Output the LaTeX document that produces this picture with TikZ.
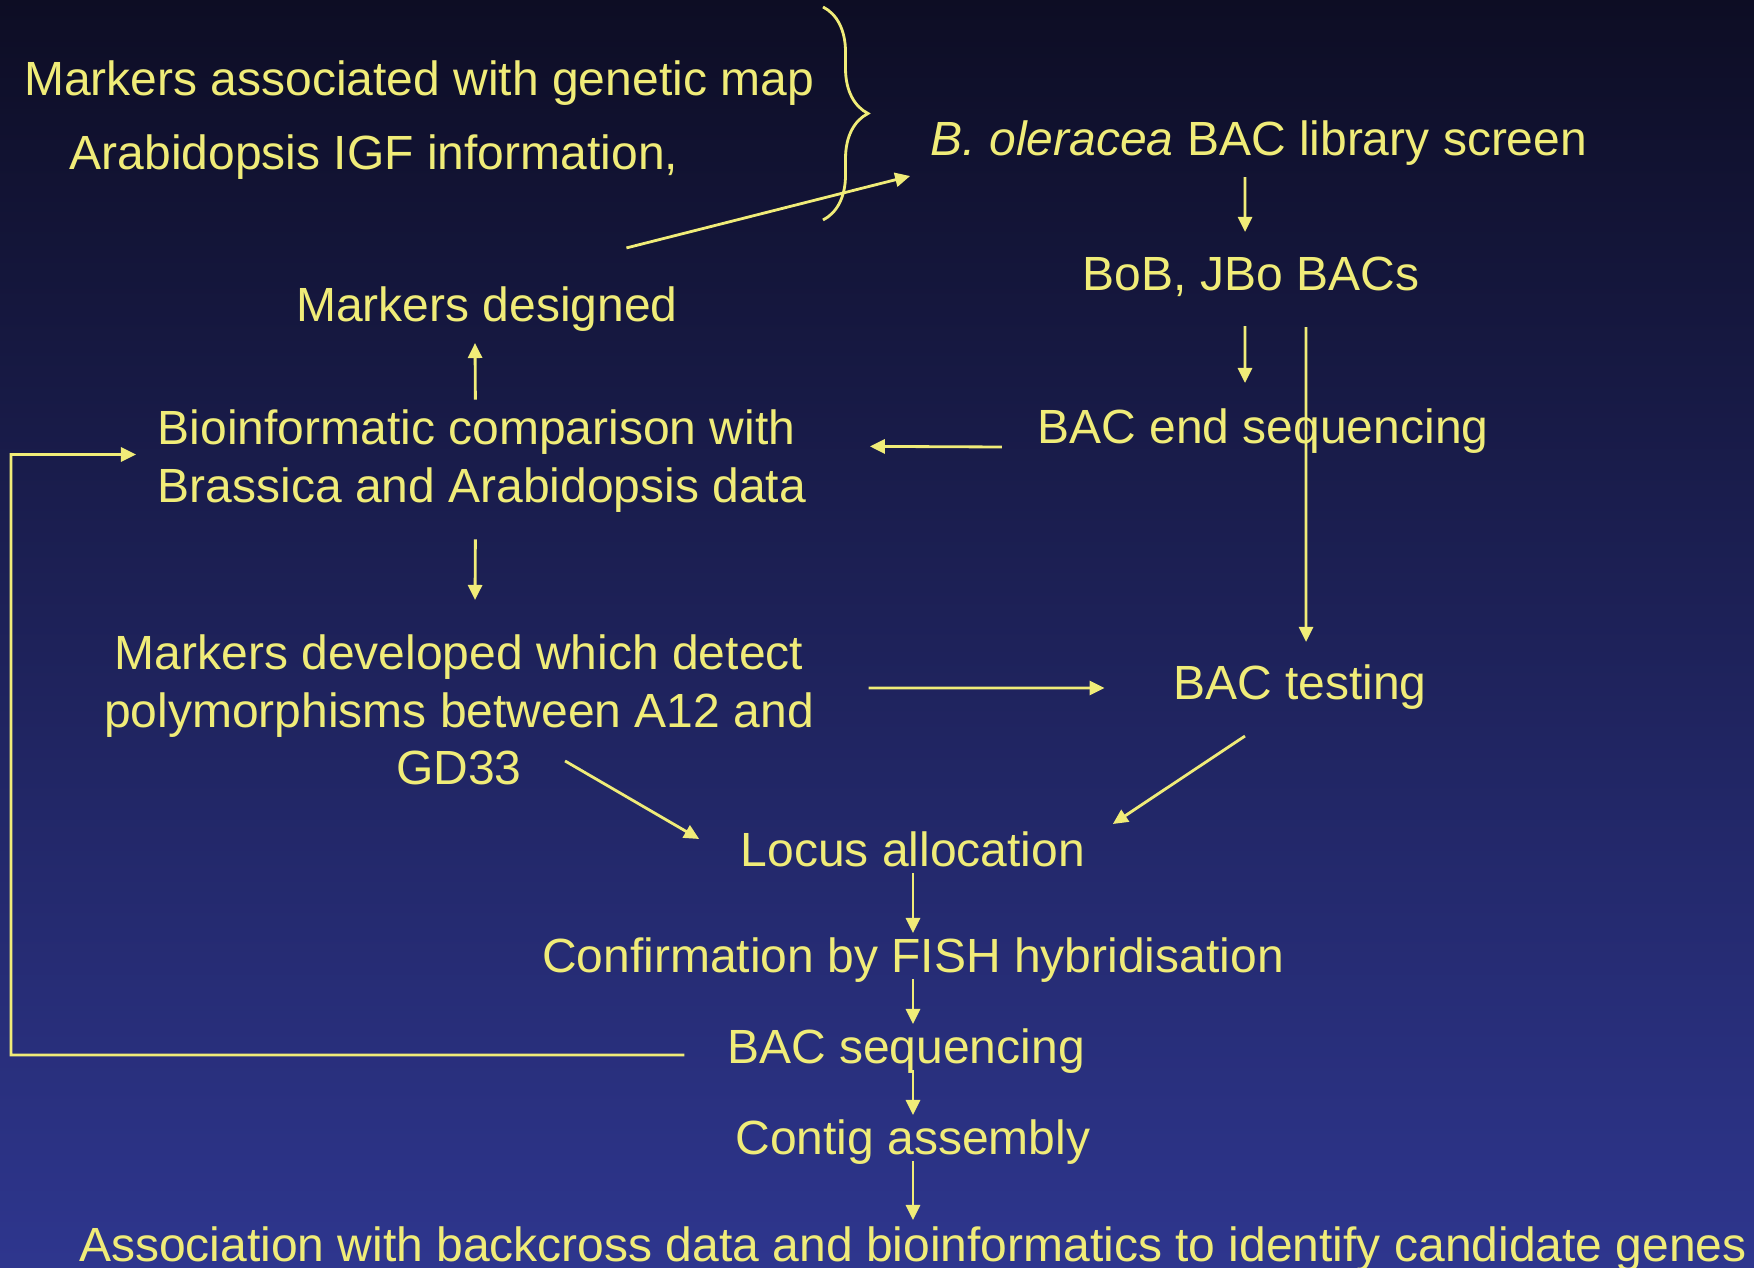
\documentclass[tikz,border=0pt]{standalone}
\usepackage{fontspec}
\setmainfont{Liberation Sans}
\usetikzlibrary{arrows.meta,decorations.pathreplacing}
\definecolor{slidetop}{RGB}{13,13,36}
\definecolor{slidemid}{RGB}{40,38,100}
\definecolor{slidebot}{RGB}{46,54,142}
\definecolor{chalk}{RGB}{240,236,120}
\begin{document}
\begin{tikzpicture}[x=0.01cm,y=-0.01cm,
  txt/.style={text=chalk,inner sep=0pt,font=\fontsize{13.65}{16.4}\selectfont},
  oneline/.style={txt,text height=11.1pt,text depth=1.6pt},
  wire/.style={draw=chalk,line width=0.8pt},
  arr/.style={wire,-{Triangle[length=0.15cm,width=0.14cm]}}]
\shade[top color=slidetop,middle color=slidemid,bottom color=slidebot] (0,0) rectangle (1754,1268);
\useasboundingbox (0,0) rectangle (1754,1268);
% texts
\node[oneline] (gmap) at (419,79) {Markers associated with genetic map};
\node[oneline] (igf) at (374,153) {Arabidopsis IGF information,};
\node[oneline] (lib) at (1259,139) {\textit{B. oleracea} BAC library screen};
\node[oneline] (bob) at (1251,274) {BoB, JBo BACs};
\node[oneline] (mdes) at (487,305) {Markers designed};
\node[txt,align=left,anchor=west] (bioinf) at (157,461) {Bioinformatic comparison with\\Brassica and Arabidopsis data};
\node[oneline] (endseq) at (1263,427) {BAC end sequencing};
\node[txt,align=center] (dev) at (459,710) {Markers developed which detect\\polymorphisms between A12 and\\GD33};
\node[oneline] (test) at (1300,683) {BAC testing};
\node[oneline] (loc) at (913,850) {Locus allocation};
\node[oneline] (conf) at (913,956) {Confirmation by FISH hybridisation};
\node[oneline] (bseq) at (906,1047) {BAC sequencing};
\node[oneline] (contig) at (913,1138) {Contig assembly};
\node[oneline] (assoc) at (913,1245) {Association with backcross data and bioinformatics to identify candidate genes};
\coordinate (back) at (11,1055);
% brace and arrows
\draw[wire,decorate,decoration={brace,amplitude=0.45cm}] (823,7) -- (823,220);
\draw[arr] ([xshift=-0.52cm,yshift=0.34cm]mdes.north east) -- ([xshift=-0.2cm,yshift=-0.14cm]lib.south west);
\draw[arr] ([xshift=-0.14cm,yshift=-0.15cm]lib.south) -- ([xshift=-0.06cm,yshift=0.19cm]bob.north);
\draw[arr] ([xshift=-0.06cm,yshift=-0.29cm]bob.south) -- ([xshift=-0.18cm,yshift=0.21cm]endseq.north);
\draw[arr] ([xshift=0.55cm,yshift=-0.3cm]bob.south) -- ([xshift=0.06cm,yshift=0.18cm]test.north);
\draw[arr] ([xshift=-0.35cm,yshift=-0.2cm]endseq.west) -- ([xshift=0.63cm,yshift=0.146cm]bioinf.east);
\draw[arr] ([xshift=-0.065cm,yshift=0.095cm]bioinf.north) -- ([xshift=-0.12cm,yshift=-0.15cm]mdes.south);
\draw[arr] ([xshift=-0.065cm,yshift=-0.265cm]bioinf.south) -- ([xshift=0.16cm,yshift=0.34cm]dev.north);
\draw[arr] ([xshift=0.54cm,yshift=0.22cm]dev.east) -- ([xshift=-0.68cm,yshift=-0.05cm]test.west);
\draw[arr] ([xshift=1.06cm,yshift=0.25cm]dev.south) -- ([xshift=-0.41cm,yshift=0.11cm]loc.west);
\draw[arr] ([xshift=-0.55cm,yshift=-0.3cm]test.south) -- ([xshift=0.27cm,yshift=0.26cm]loc.east);
\draw[arr] (loc.south) -- (conf.north);
\draw[arr] (conf.south) -- (conf.south |- bseq.north);
\draw[arr] (bseq.south -| conf.south) -- (contig.north);
\draw[arr] (contig.south) -- ([yshift=0.02cm]assoc.north);
\draw[arr] ([xshift=-0.42cm,yshift=-0.08cm]bseq.west) -- (back) |- ([xshift=-0.21cm,yshift=0.065cm]bioinf.west);
\end{tikzpicture}
\end{document}
